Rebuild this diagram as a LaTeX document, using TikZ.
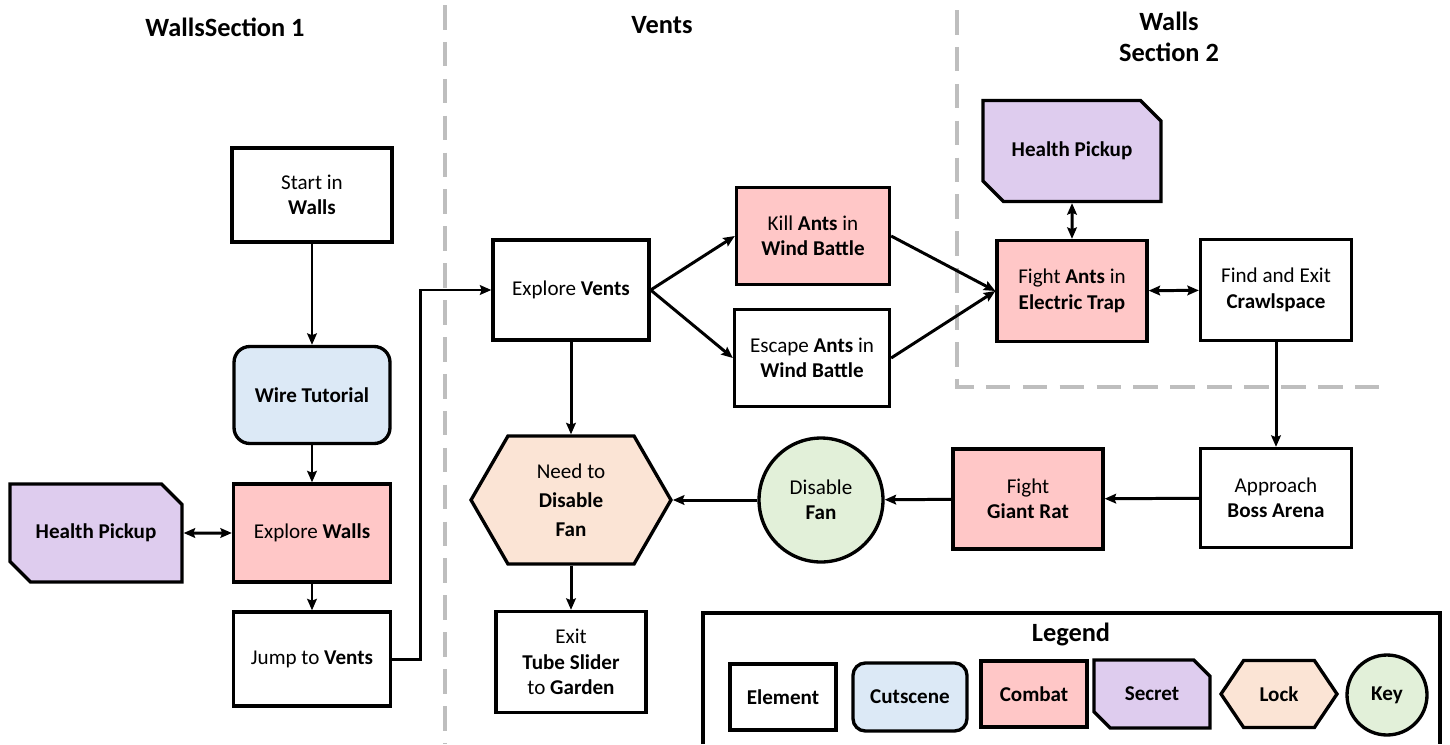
\documentclass[tikz,border=0pt]{standalone}
\usepackage{fontspec}
\setmainfont{Carlito}
\usetikzlibrary{shapes.geometric,shapes.misc,shapes.symbols,arrows.meta}

\definecolor{combatred}{RGB}{255,199,199}
\definecolor{cutsceneblue}{RGB}{220,233,246}
\definecolor{secretpurple}{RGB}{222,204,238}
\definecolor{lockpeach}{RGB}{251,228,213}
\definecolor{keygreen}{RGB}{226,240,217}
\definecolor{sectiongray}{RGB}{190,190,190}

\tikzset{
  element/.style={draw,line width=1.9pt,fill=white,align=center,minimum width=3.1cm,minimum height=1.98cm,font=\fontsize{12}{14.5}\selectfont},
  cutscene/.style={element,fill=cutsceneblue,rounded corners=9pt},
  combat/.style={element,fill=combatred},
  secret/.style={element,fill=secretpurple,chamfered rectangle,chamfered rectangle corners={north east,south west},chamfered rectangle xsep=9pt},
  lock/.style={element,fill=lockpeach,signal,signal to=west and east,signal pointer angle=120},
  key/.style={element,fill=keygreen,circle,minimum size=2.48cm},
  legenditem/.style={minimum width=2.12cm,minimum height=1.32cm,font=\fontsize{12}{14}\selectfont\bfseries},
  flow/.style={line width=1.7pt,-{Stealth[length=6.5pt,width=5.5pt,inset=1pt]}},
  twoway/.style={line width=1.7pt,{Stealth[length=6.5pt,width=5.5pt,inset=1pt]}-{Stealth[length=6.5pt,width=5.5pt,inset=1pt]}},
  section/.style={draw=sectiongray,line width=1.9pt,dash pattern=on 14pt off 7pt},
  heading/.style={font=\fontsize{15}{18}\selectfont\bfseries,align=center}
}

\begin{document}
\begin{tikzpicture}[x=0.02cm,y=-0.02cm]
    \useasboundingbox (0,0) rectangle (1450,744);
    % sections
    \node[heading] (wallsone) at (225,27) {WallsSection 1};
    \node[heading] (vents) at (662,25) {Vents};
    \node[heading] (wallstwo) at (1169,37) {Walls\\Section 2};
    \draw[section] (445,5) -- (445,744);
    \draw[section] (957,10) -- (957,387) -- (1382,387);

    % walls section 1
    \node[element,minimum width=3.2cm,minimum height=1.88cm] (start) at (312,195) {Start in\\\textbf{Walls}};
    \node[cutscene,minimum width=3.12cm,minimum height=1.94cm] (wire) at (312,395) {\textbf{Wire Tutorial}};
    \node[combat,minimum width=3.14cm,minimum height=1.96cm] (explwalls) at (312,533) {Explore \textbf{Walls}};
    \node[secret,minimum width=3.44cm,minimum height=1.96cm] (healthleft) at (96,533) {\textbf{Health Pickup}};
    \node[element,minimum width=3.14cm,minimum height=1.88cm] (jump) at (312,659) {Jump to \textbf{Vents}};

    % vents
    \node[element,minimum width=3.12cm,minimum height=2cm] (explvents) at (571,290) {Explore \textbf{Vents}};
    \node[combat,minimum width=3.06cm,minimum height=1.94cm] (kill) at (813,236) {Kill \textbf{Ants} in\\\textbf{Wind Battle}};
    \node[element,minimum width=3.1cm,minimum height=1.94cm] (escape) at (812,358) {Escape \textbf{Ants} in\\\textbf{Wind Battle}};
    \node[lock,minimum width=4cm,minimum height=2.56cm,font=\fontsize{12}{16.5}\selectfont] (needfan) at (571,500) {Need to\\\textbf{Disable}\\\textbf{Fan}};
    \node[element,minimum width=3cm,minimum height=2.02cm] (exit) at (571,662) {Exit\\\textbf{Tube Slider}\\to \textbf{Garden}};
    \node[key] (fan) at (821,500) {Disable\\\textbf{Fan}};

    % walls section 2
    \node[combat,minimum width=3cm,minimum height=2.02cm] (trap) at (1072,291) {Fight \textbf{Ants} in\\\textbf{Electric Trap}};
    \node[secret,minimum width=3.56cm,minimum height=2.02cm] (healthright) at (1072,151) {\textbf{Health Pickup}};
    \node[element,minimum width=3.02cm,minimum height=2.02cm] (crawl) at (1276,290) {Find and Exit\\\textbf{Crawlspace}};
    \node[element,minimum width=3.02cm,minimum height=1.98cm] (boss) at (1276,498) {Approach\\\textbf{Boss Arena}};
    \node[combat,minimum width=3cm,minimum height=2cm] (rat) at (1028,499) {Fight\\\textbf{Giant Rat}};

    % connectors
    \draw[flow] (start) -- (wire);
    \draw[flow] (wire) -- (explwalls);
    \draw[twoway] (healthleft) -- (explwalls);
    \draw[flow] (explwalls) -- (jump);
    \draw[flow] (jump.east) -- ++(28,0) |- (explvents.west);
    \draw[flow] (explvents.east) -- (kill.west);
    \draw[flow] (explvents.east) -- (escape.west);
    \draw[flow] (kill.east) -- (trap.west);
    \draw[flow] (escape.east) -- (trap.west);
    \draw[twoway] (healthright) -- (trap);
    \draw[twoway] (trap) -- (crawl);
    \draw[flow] (crawl) -- (boss);
    \draw[flow] (boss) -- (rat);
    \draw[flow] (rat) -- (fan);
    \draw[flow] (fan) -- (needfan.east);
    \draw[flow] (explvents) -- (needfan.north);
    \draw[flow] (needfan.south) -- (exit);

    % legend
    \draw[line width=1.9pt] (703,744) -- (703,613) -- (1440,613) -- (1440,744);
    \node[heading] (legend) at (1071,634) {Legend};
    \node[element,legenditem] (lgelement) at (783,697) {Element};
    \node[cutscene,legenditem,minimum width=2.28cm,minimum height=1.36cm,rounded corners=7pt] (lgcutscene) at (910,697) {Cutscene};
    \node[combat,legenditem] (lgcombat) at (1034,694) {Combat};
    \node[secret,legenditem,minimum width=2.32cm,minimum height=1.36cm,chamfered rectangle xsep=6pt] (lgsecret) at (1152,694) {Secret};
    \node[lock,legenditem,minimum width=2.32cm,minimum height=1.34cm,signal pointer angle=112] (lglock) at (1279,694) {Lock};
    \node[key,legenditem,minimum size=1.6cm] (lgkey) at (1387,695) {Key};
\end{tikzpicture}
\end{document}
